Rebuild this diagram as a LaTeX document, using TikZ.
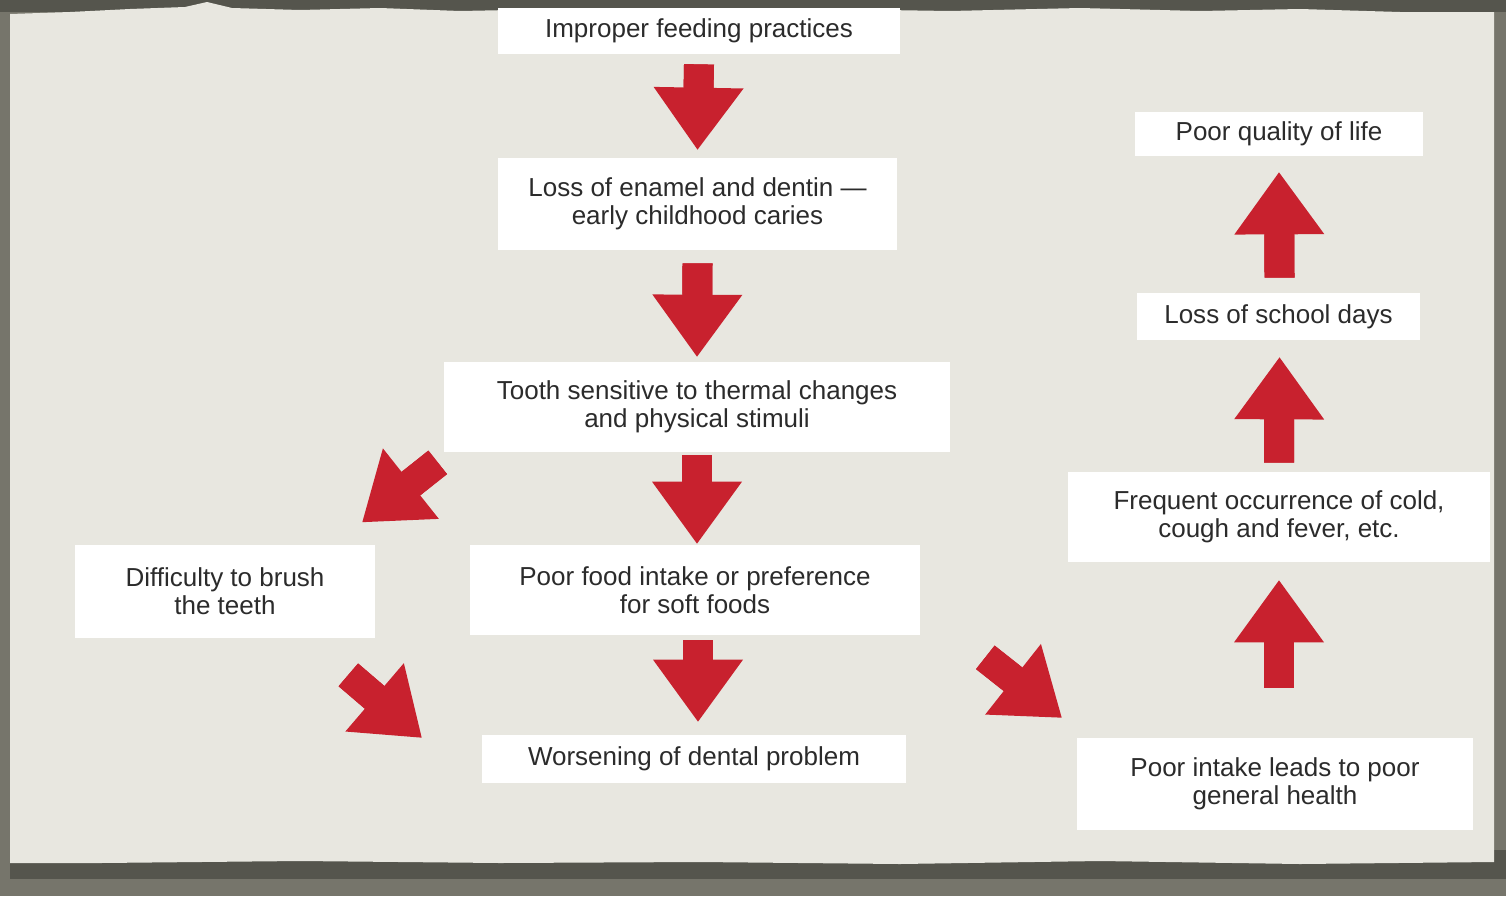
\documentclass[tikz,border=0pt]{standalone}
\usepackage{fontspec}
\setmainfont{Liberation Sans}
\usetikzlibrary{arrows.meta}
\usepackage{xcolor}

\definecolor{paper}{HTML}{E8E7E0}
\definecolor{frame}{HTML}{76756B}
\definecolor{mountdark}{HTML}{55554D}
\definecolor{arrowred}{HTML}{C8212E}
\definecolor{ink}{HTML}{2B2B2B}

\tikzset{
  box/.style={fill=white, text=ink, align=center, inner sep=0pt,
    font=\fontsize{14.8}{16}\selectfont},
  bigarrow/.style={draw=arrowred, line width=0.6cm,
    -{Triangle[length=1.24cm,width=1.8cm,line width=0pt]},
    postaction={draw=arrowred, line width=0.6cm, -, shorten >=1.1cm}},
}

\begin{document}
\begin{tikzpicture}[x=0.02cm,y=-0.02cm]
 \useasboundingbox (0,0) rectangle (1506,896);
 % mount and torn sheet
 \fill[frame] (0,0) rectangle (1506,896);
 \fill[mountdark] (10,850) rectangle (1506,879);
 \fill[mountdark] (0,0) rectangle (1506,12);
 \fill[paper] (10,14) -- (70,12) -- (130,9) -- (185,7) -- (207,2) -- (232,8)
   -- (300,10) -- (380,8) -- (460,11) -- (560,9) -- (700,12) -- (820,9)
   -- (950,11) -- (1080,8) -- (1200,11) -- (1300,9) -- (1400,12) -- (1494,12)
   -- (1494,862) -- (1300,864) -- (1100,861) -- (900,864) -- (700,862)
   -- (500,863) -- (300,861) -- (100,863) -- (10,863) -- cycle;

 % middle column
 \node[box, minimum width=8.04cm, minimum height=0.92cm] (feed) at (699,31)
   {Improper feeding practices};
 \node[box, minimum width=7.98cm, minimum height=1.84cm] (enamel) at (697.5,204)
   {Loss of enamel and dentin ---\\early childhood caries};
 \node[box, minimum width=10.12cm, minimum height=1.8cm] (tooth) at (697,407)
   {Tooth sensitive to thermal changes\\and physical stimuli};
 \node[box, minimum width=9cm, minimum height=1.8cm] (food) at (695,590)
   {Poor food intake or preference\\for soft foods};
 \node[box, minimum width=8.48cm, minimum height=0.96cm] (worse) at (694,759)
   {Worsening of dental problem};

 % left side
 \node[box, minimum width=6cm, minimum height=1.86cm] (brush) at (225,591)
   {Difficulty to brush\\the teeth};

 % right column
 \node[box, minimum width=5.76cm, minimum height=0.88cm] (life) at (1279,134)
   {Poor quality of life};
 \node[box, minimum width=5.66cm, minimum height=0.94cm] (school) at (1278.5,316.5)
   {Loss of school days};
 \node[box, minimum width=8.44cm, minimum height=1.8cm] (cold) at (1279,517)
   {Frequent occurrence of cold,\\cough and fever, etc.};
 \node[box, minimum width=7.92cm, minimum height=1.84cm] (intake) at (1275,784)
   {Poor intake leads to poor\\general health};

 % down the middle
 \draw[bigarrow] ([shift={(0,10)}]feed.south) -- ([shift={(0,-8)}]enamel.north);
 \draw[bigarrow] ([shift={(0,13)}]enamel.south) -- ([shift={(0,-5)}]tooth.north);
 \draw[bigarrow] ([shift={(0,3)}]tooth.south) -- ([shift={(2,-1)}]food.north);
 \draw[bigarrow] ([shift={(3,5)}]food.south) -- ([shift={(4,-13)}]worse.north);

 % side branches
 \draw[bigarrow] ([shift={(-6,10)}]tooth.south west) -- ([shift={(-13,-22)}]brush.north east);
 \draw[bigarrow] ([shift={(-27,37)}]brush.south east) -- ([shift={(-60,3)}]worse.north west);
 \draw[bigarrow] ([shift={(65,22)}]food.south east) -- ([shift={(-15,-20)}]intake.north west);

 % up the right
 \draw[bigarrow] ([shift={(4,-50)}]intake.north) -- ([shift={(0,18)}]cold.south);
 \draw[bigarrow] ([shift={(0,-9)}]cold.north) -- ([shift={(1,17)}]school.south);
 \draw[bigarrow] ([shift={(1,-15)}]school.north) -- ([shift={(0,16)}]life.south);
\end{tikzpicture}
\end{document}
